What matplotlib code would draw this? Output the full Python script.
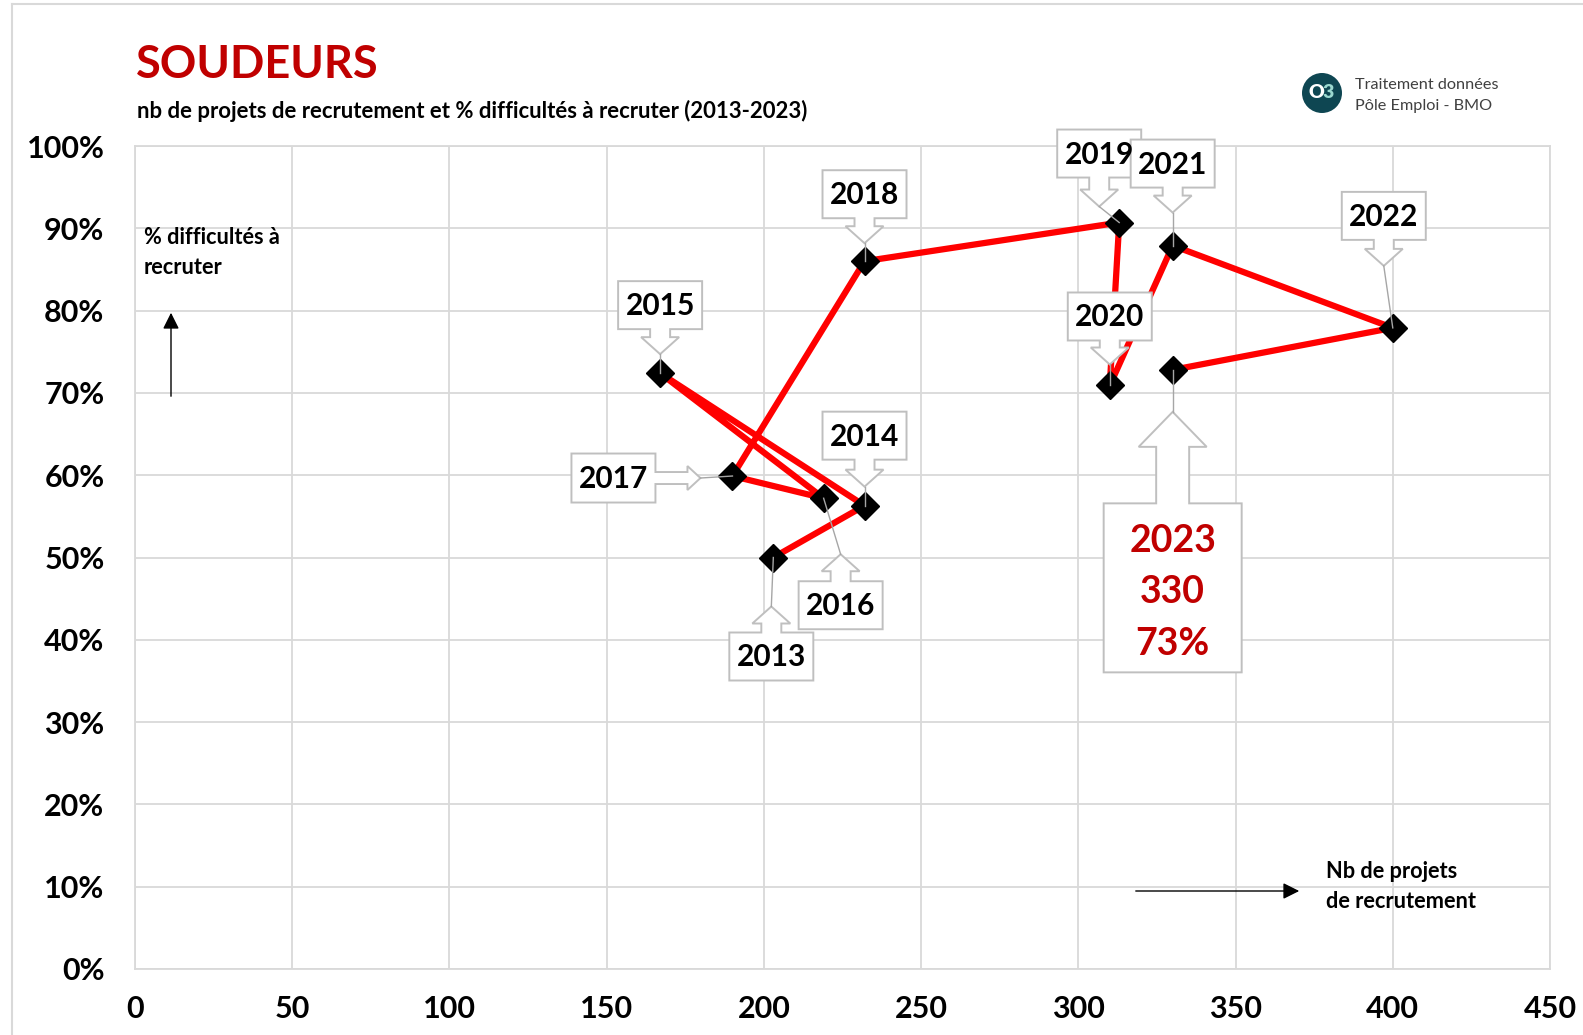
import matplotlib
matplotlib.use("Agg")
import matplotlib.pyplot as plt
from matplotlib.patches import Polygon, Circle
from matplotlib.transforms import IdentityTransform
from matplotlib.ticker import FuncFormatter
import numpy as np

# ---------------- data ----------------
years = [2013, 2014, 2015, 2016, 2017, 2018, 2019, 2020, 2021, 2022, 2023]
projets = [203, 232, 167, 219, 190, 232, 313, 310, 330, 400, 330]
difficultes = [50.0, 56.3, 72.4, 57.2, 59.9, 86.0, 90.7, 70.9, 87.9, 77.9, 72.8]
x_ticks = [0, 50, 100, 150, 200, 250, 300, 350, 400, 450]
y_ticks = [0, 10, 20, 30, 40, 50, 60, 70, 80, 90, 100]
last_label = ["2023", "330", "73%"]

# callout styling: (direction, box dx, box dy [image px, y down], tip distance L)
callouts = {
    2013: ("up", -2, 99, 50),
    2014: ("down", 0, -70, 51),
    2015: ("down", 0, -68, 49),
    2016: ("up", 17, 107, 51),
    2017: ("right", -119, 2, 87),
    2018: ("down", 0, -67, 49),
    2019: ("down", -20, -69, 53),
    2020: ("down", 0, -69, 48),
    2021: ("down", 0, -82, 49),
    2022: ("down", -9, -112, 50),
    2023: ("up", 0, 218, 176),
}

W, H = 1583, 1035
FONT = "Lato"
plt.rcParams["font.family"] = [FONT, "DejaVu Sans"]

fig = plt.figure(figsize=(W / 100, H / 100), dpi=100)
fig.patch.set_facecolor("white")

def fx(px):
    return px / W

def fy(py):
    return 1 - py / H

ax = fig.add_axes([fx(135), fy(969), (1550 - 135) / W, (969 - 146) / H])
ax.set_xlim(0, 450)
ax.set_ylim(0, 100)
ax.set_xticks(x_ticks)
ax.set_yticks(y_ticks)
ax.yaxis.set_major_formatter(FuncFormatter(lambda v, p: f"{int(v)}%"))
ax.grid(True, color="#D9D9D9", lw=1.3)
ax.set_axisbelow(True)
for s in ax.spines.values():
    s.set_color("#D9D9D9")
    s.set_linewidth(1.3)
ax.tick_params(length=0, labelsize=22)
ax.tick_params(axis="y", pad=22)
ax.tick_params(axis="x", pad=19)
for lab in ax.get_xticklabels() + ax.get_yticklabels():
    lab.set_fontweight("bold")

ax.plot(projets, difficultes, color="#FF0000", lw=4.5, zorder=3, solid_capstyle="round")
ax.plot(projets, difficultes, ls="none", marker="D", ms=14, color="black", zorder=4)

fig.canvas.draw()

def draw_callout(year, x, y, lines, color):
    direction, bdx, bdy, L = callouts[year]
    px, py = ax.transData.transform((x, y))
    cx, cy = px + bdx, py - bdy
    big = year == 2023
    if direction == "right":
        w, h = 84, 49
        d = np.array([1.0, 0.0]); n = np.array([0.0, 1.0])
        Wp, D = h, w
        sw, hw, hl = 12, 24, 13
    else:
        w, h = (138, 169) if big else (84, 48)
        d = np.array([0.0, -1.0]) if direction == "down" else np.array([0.0, 1.0])
        n = np.array([1.0, 0.0])
        Wp, D = w, h
        sw, hw, hl = (33, 68, 35) if big else (20, 38, 17)
    local = [(-Wp / 2, -D / 2), (Wp / 2, -D / 2), (Wp / 2, D / 2),
             (sw / 2, D / 2), (sw / 2, L - hl), (hw / 2, L - hl), (0, L),
             (-hw / 2, L - hl), (-sw / 2, L - hl), (-sw / 2, D / 2), (-Wp / 2, D / 2)]
    c = np.array([cx, cy])
    pts = [c + p * n + s * d for p, s in local]
    poly = Polygon(pts, closed=True, facecolor="white", edgecolor="#BFBFBF",
                   lw=1.4, transform=IdentityTransform(), zorder=6, clip_on=False)
    fig.add_artist(poly)
    tip = c + L * d
    if np.hypot(tip[0] - px, tip[1] - py) > 3:
        fig.add_artist(plt.Line2D([tip[0], px], [tip[1], py], color="#A6A6A6", lw=1.0,
                                  transform=IdentityTransform(), zorder=7))
    if big:
        offs = [47, -4, -56]
        for t, o in zip(lines, offs):
            fig.text(cx / W, (cy + o) / H, t, ha="center", va="center", fontsize=27,
                     fontweight="bold", color=color, zorder=8)
    else:
        fig.text(cx / W, (cy - 1) / H, lines[0], ha="center", va="center", fontsize=21.5,
                 fontweight="bold", color=color, zorder=8)

for i, yr in enumerate(years):
    if yr == 2023:
        draw_callout(yr, projets[i], difficultes[i], last_label, "#C00000")
    else:
        draw_callout(yr, projets[i], difficultes[i], [str(yr)], "black")

# titles
fig.text(fx(136), fy(65), "SOUDEURS", fontsize=32.5, fontweight="bold", color="#C00000",
         ha="left", va="center")
fig.text(fx(137), fy(111), "nb de projets de recrutement et % difficultés à recruter (2013-2023)",
         fontsize=15.9, fontweight="bold", color="black", ha="left", va="center")

# axis notes
fig.text(fx(144), fy(238), "% difficultés à", fontsize=15.7, fontweight="bold", ha="left", va="center")
fig.text(fx(144), fy(268), "recruter", fontsize=15.7, fontweight="bold", ha="left", va="center")
fig.text(fx(1326), fy(871), "Nb de projets", fontsize=15.7, fontweight="bold", ha="left", va="center")
fig.text(fx(1326), fy(901), "de recrutement", fontsize=15.7, fontweight="bold", ha="left", va="center")
fig.add_artist(matplotlib.patches.FancyArrowPatch((fx(171), fy(399)), (fx(171), fy(310)),
               transform=fig.transFigure, arrowstyle="-|>,head_length=7,head_width=3.5",
               color="black", lw=1.0, mutation_scale=1.4))
fig.add_artist(matplotlib.patches.FancyArrowPatch((fx(1133), fy(891)), (fx(1302), fy(891)),
               transform=fig.transFigure, arrowstyle="-|>,head_length=7,head_width=3.5",
               color="black", lw=1.0, mutation_scale=1.4))

# logo + source
fig.add_artist(Circle((1322, H - 93), 20, transform=IdentityTransform(),
                      facecolor="#0E4652", edgecolor="none"))
fig.text(fx(1316), fy(93), "O", fontsize=14, fontweight="heavy", color="white",
         ha="center", va="center")
fig.text(fx(1328), fy(93), "3", fontsize=14, fontweight="heavy", color="#9BD8CF",
         ha="center", va="center")
fig.text(fx(1355), fy(85), "Traitement données", fontsize=11.7, color="#404040",
         ha="left", va="center")
fig.text(fx(1355), fy(106), "Pôle Emploi - BMO", fontsize=11.7, color="#404040",
         ha="left", va="center")

# outer frame
fig.add_artist(plt.Line2D([12, 12], [0, H - 4], color="#D9D9D9", lw=1.5,
                          transform=IdentityTransform()))
fig.add_artist(plt.Line2D([12, W], [H - 4, H - 4], color="#D9D9D9", lw=1.5,
                          transform=IdentityTransform()))

fig.savefig("out.png", dpi=100)
